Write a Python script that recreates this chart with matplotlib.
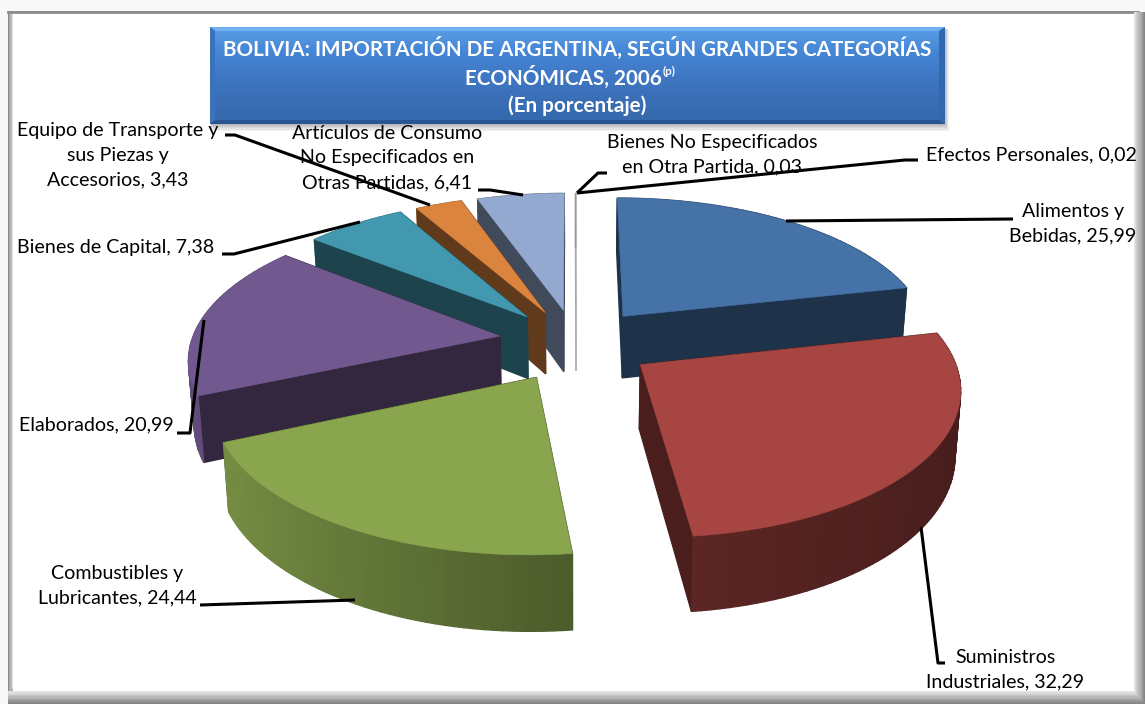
import numpy as np
import matplotlib
matplotlib.use("Agg")
import matplotlib.pyplot as plt
from matplotlib.patches import Polygon, Rectangle

plt.rcParams['font.family'] = ['Lato', 'DejaVu Sans']

# Datos del grafico
categorias = ["Alimentos y Bebidas", "Suministros Industriales", "Combustibles y Lubricantes",
              "Elaborados", "Bienes de Capital", "Equipo de Transporte y sus Piezas y Accesorios",
              "Artículos de Consumo No Especificados en Otras Partidas",
              "Bienes No Especificados en Otra Partida", "Efectos Personales"]
valores = [25.99, 32.29, 24.44, 20.99, 7.38, 3.43, 6.41, 0.03, 0.02]
colores = ["#4572A7", "#A64542", "#89A54E", "#71588F", "#4198AF", "#DB843D", "#93A9CF",
           "#D19392", "#B9CD96"]

# Parametros de la proyeccion (pixeles)
CX, CY = 576, 340
RX, RY = 308, 141
K = 0.14
H = 63
EXPLOSION = 0.25
EXPL_Y_ARRIBA = 0.88
EXPL_Y_ABAJO = 1.18


def proyectar(x, y, z=0.0):
    d = 1 + K * y
    esc = 1 - 0.015 * (z > 0)
    return CX + esc * RX * x / d, CY - RY * y / d + z / d


def oscurecer(color, f):
    rgb = np.array(matplotlib.colors.to_rgb(color))
    return tuple(rgb * f)


def rebanada(ax, ini, fin, color, base_z):
    medio = (ini + fin) / 2
    ox, oy = EXPLOSION * np.sin(medio), EXPLOSION * np.cos(medio)
    oy *= EXPL_Y_ARRIBA if oy > 0 else EXPL_Y_ABAJO
    alfa = 0.12 if fin - ini < 0.01 else 1.0
    n = max(2, int(np.degrees(fin - ini) / 1.5))
    t = np.linspace(ini, fin, n)
    xs = ox + np.sin(t)
    ys = oy + np.cos(t)

    paredes = []
    # paredes radiales
    for xb, yb in [(xs[0], ys[0]), (xs[-1], ys[-1])]:
        q = [proyectar(ox, oy), proyectar(xb, yb), proyectar(xb, yb, H), proyectar(ox, oy, H)]
        paredes.append(((oy + yb) / 2 * -1, q, oscurecer(color, 0.44)))
    # pared exterior, con sombreado segun orientacion
    for i in range(n - 1):
        q = [proyectar(xs[i], ys[i]), proyectar(xs[i + 1], ys[i + 1]),
             proyectar(xs[i + 1], ys[i + 1], H), proyectar(xs[i], ys[i], H)]
        nx = np.sin((t[i] + t[i + 1]) / 2)
        f = np.interp(nx, [-1, 0.12, 1], [0.88, 0.55, 0.42])
        paredes.append(((ys[i] + ys[i + 1]) / 2 * -1, q, oscurecer(color, f)))
    # de atras hacia adelante
    paredes.sort(key=lambda p: p[0])
    for prof, q, c in paredes:
        ax.add_patch(Polygon(q, closed=True, fc=c, ec=c, lw=1.0, alpha=alfa, zorder=base_z))
    top = [proyectar(ox, oy)] + [proyectar(a, b) for a, b in zip(xs, ys)]
    ax.add_patch(Polygon(top, closed=True, fc=color, ec=color, lw=0.4, alpha=alfa, zorder=base_z))


fig = plt.figure(figsize=(11.45, 7.04), dpi=100)
ax = fig.add_axes([0, 0, 1, 1])
ax.set_xlim(0, 1145)
ax.set_ylim(704, 0)
ax.axis('off')

# Marco gris
ax.add_patch(Rectangle((0, 0), 1145, 704, fc='#f8f8f8', ec='none', zorder=0))
for i, g in enumerate(np.linspace(0.55, 0.93, 8)):
    ax.add_patch(Rectangle((8 + i * 0.7, 11 + i * 0.35), 1130 - i * 1.6, 683 - i * 1.6,
                           fc=(g, g, g), ec='none', zorder=0.1 + i * 0.01))
ax.add_patch(Rectangle((13, 14), 1121, 677, fc='white', ec='none', zorder=0.5))
ax.plot([8, 1138], [12, 12], color='#8c8c8c', lw=2, zorder=0.6)
for i, g in enumerate(np.linspace(0.9, 0.52, 10)):
    ax.add_patch(Rectangle((8, 691 + i * 1.3), 1137, 1.4, fc=(g, g, g), ec='none', zorder=0.6))
    ax.add_patch(Rectangle((1134 + i * 1.1, 12), 1.2, 690, fc=(g, g, g), ec='none', zorder=0.6))

# Porciones ordenadas por profundidad
total = sum(valores)
angulos = np.cumsum([0] + valores) / total * 2 * np.pi
orden = sorted(range(len(valores)),
               key=lambda i: -np.cos((angulos[i] + angulos[i + 1]) / 2))
for z, i in enumerate(orden):
    rebanada(ax, angulos[i], angulos[i + 1], colores[i], 2 + z * 0.1)

# Lineas guia
guias = [
    [(1013, 219), (786, 221)],
    [(945, 663), (938, 663), (921, 527)],
    [(200, 605), (355, 600)],
    [(177, 433), (190, 433), (204, 320)],
    [(222, 254), (234, 254), (360, 222)],
    [(225, 135), (235, 135), (430, 205)],
    [(478, 190), (490, 190), (523, 195)],
    [(607, 173), (598, 173), (577, 193)],
    [(918, 160), (905, 160), (577, 193)],
]
for g in guias:
    xs, ys = zip(*g)
    ax.plot(xs, ys, color='black', lw=2.2, solid_capstyle='butt', zorder=5)

# Etiquetas
etiquetas = [
    ("Alimentos y\nBebidas, 25,99", 1073, 224),
    ("Suministros\nIndustriales, 32,29", 1005, 670),
    ("Combustibles y\nLubricantes, 24,44", 117, 586),
    ("Elaborados, 20,99", 96, 425),
    ("Bienes de Capital, 7,38", 116, 248),
    ("Equipo de Transporte y\nsus Piezas y\nAccesorios, 3,43", 118, 155),
    ("Artículos de Consumo\nNo Especificados en\nOtras Partidas, 6,41", 387, 158),
    ("Bienes No Especificados\nen Otra Partida, 0,03", 712, 155),
    ("Efectos Personales, 0,02", 1031, 155),
]
for txt, x, y in etiquetas:
    ax.text(x, y, txt, ha='center', va='center', fontsize=14.1, linespacing=1.55,
            color='black', zorder=6)

# Caja de titulo con sombra y degradado
for i in range(6):
    ax.add_patch(Rectangle((211, 29), 734 + i * 0.8, 95 + (i + 1) * 1.1,
                           fc='black', alpha=0.05, ec='none', zorder=7))
grad = np.linspace(0, 1, 100).reshape(-1, 1)
cmap = matplotlib.colors.LinearSegmentedColormap.from_list(
    'titulo', ['#5A9EE6', '#4686D6', '#3F78C4', '#3A6FB6', '#3568AC'])
ax.imshow(grad, extent=(210, 945, 124, 27), cmap=cmap, aspect='auto', zorder=8)
ax.set_xlim(0, 1145)
ax.set_ylim(704, 0)
ax.add_patch(Polygon([(210, 27), (945, 27), (939, 31), (215, 31)], fc='#6FB0F0', ec='none', zorder=8.5))
ax.add_patch(Polygon([(210, 124), (945, 124), (939, 120), (215, 120)], fc='#2A5492', ec='none', zorder=8.5))
ax.add_patch(Polygon([(210, 27), (215, 31), (215, 120), (210, 124)], fc='#3A72BC', ec='none', zorder=8.5))
ax.add_patch(Polygon([(945, 27), (939, 31), (939, 120), (945, 124)], fc='#3268AE', ec='none', zorder=8.5))

ax.text(577, 48, "BOLIVIA: IMPORTACIÓN DE ARGENTINA, SEGÚN GRANDES CATEGORÍAS",
        ha='center', va='center', color='white', fontsize=14.9, fontweight='bold', zorder=9)
ax.text(563, 77, "ECONÓMICAS, 2006", ha='center', va='center', color='white',
        fontsize=14.9, fontweight='bold', zorder=9)
ax.text(663, 71, "(p)", ha='left', va='center', color='white', fontsize=8.5,
        fontweight='bold', zorder=9)
ax.text(577, 106, "(En porcentaje)", ha='center', va='center', color='white',
        fontsize=14.9, fontweight='bold', zorder=9)

fig.savefig("out.png", dpi=100)
